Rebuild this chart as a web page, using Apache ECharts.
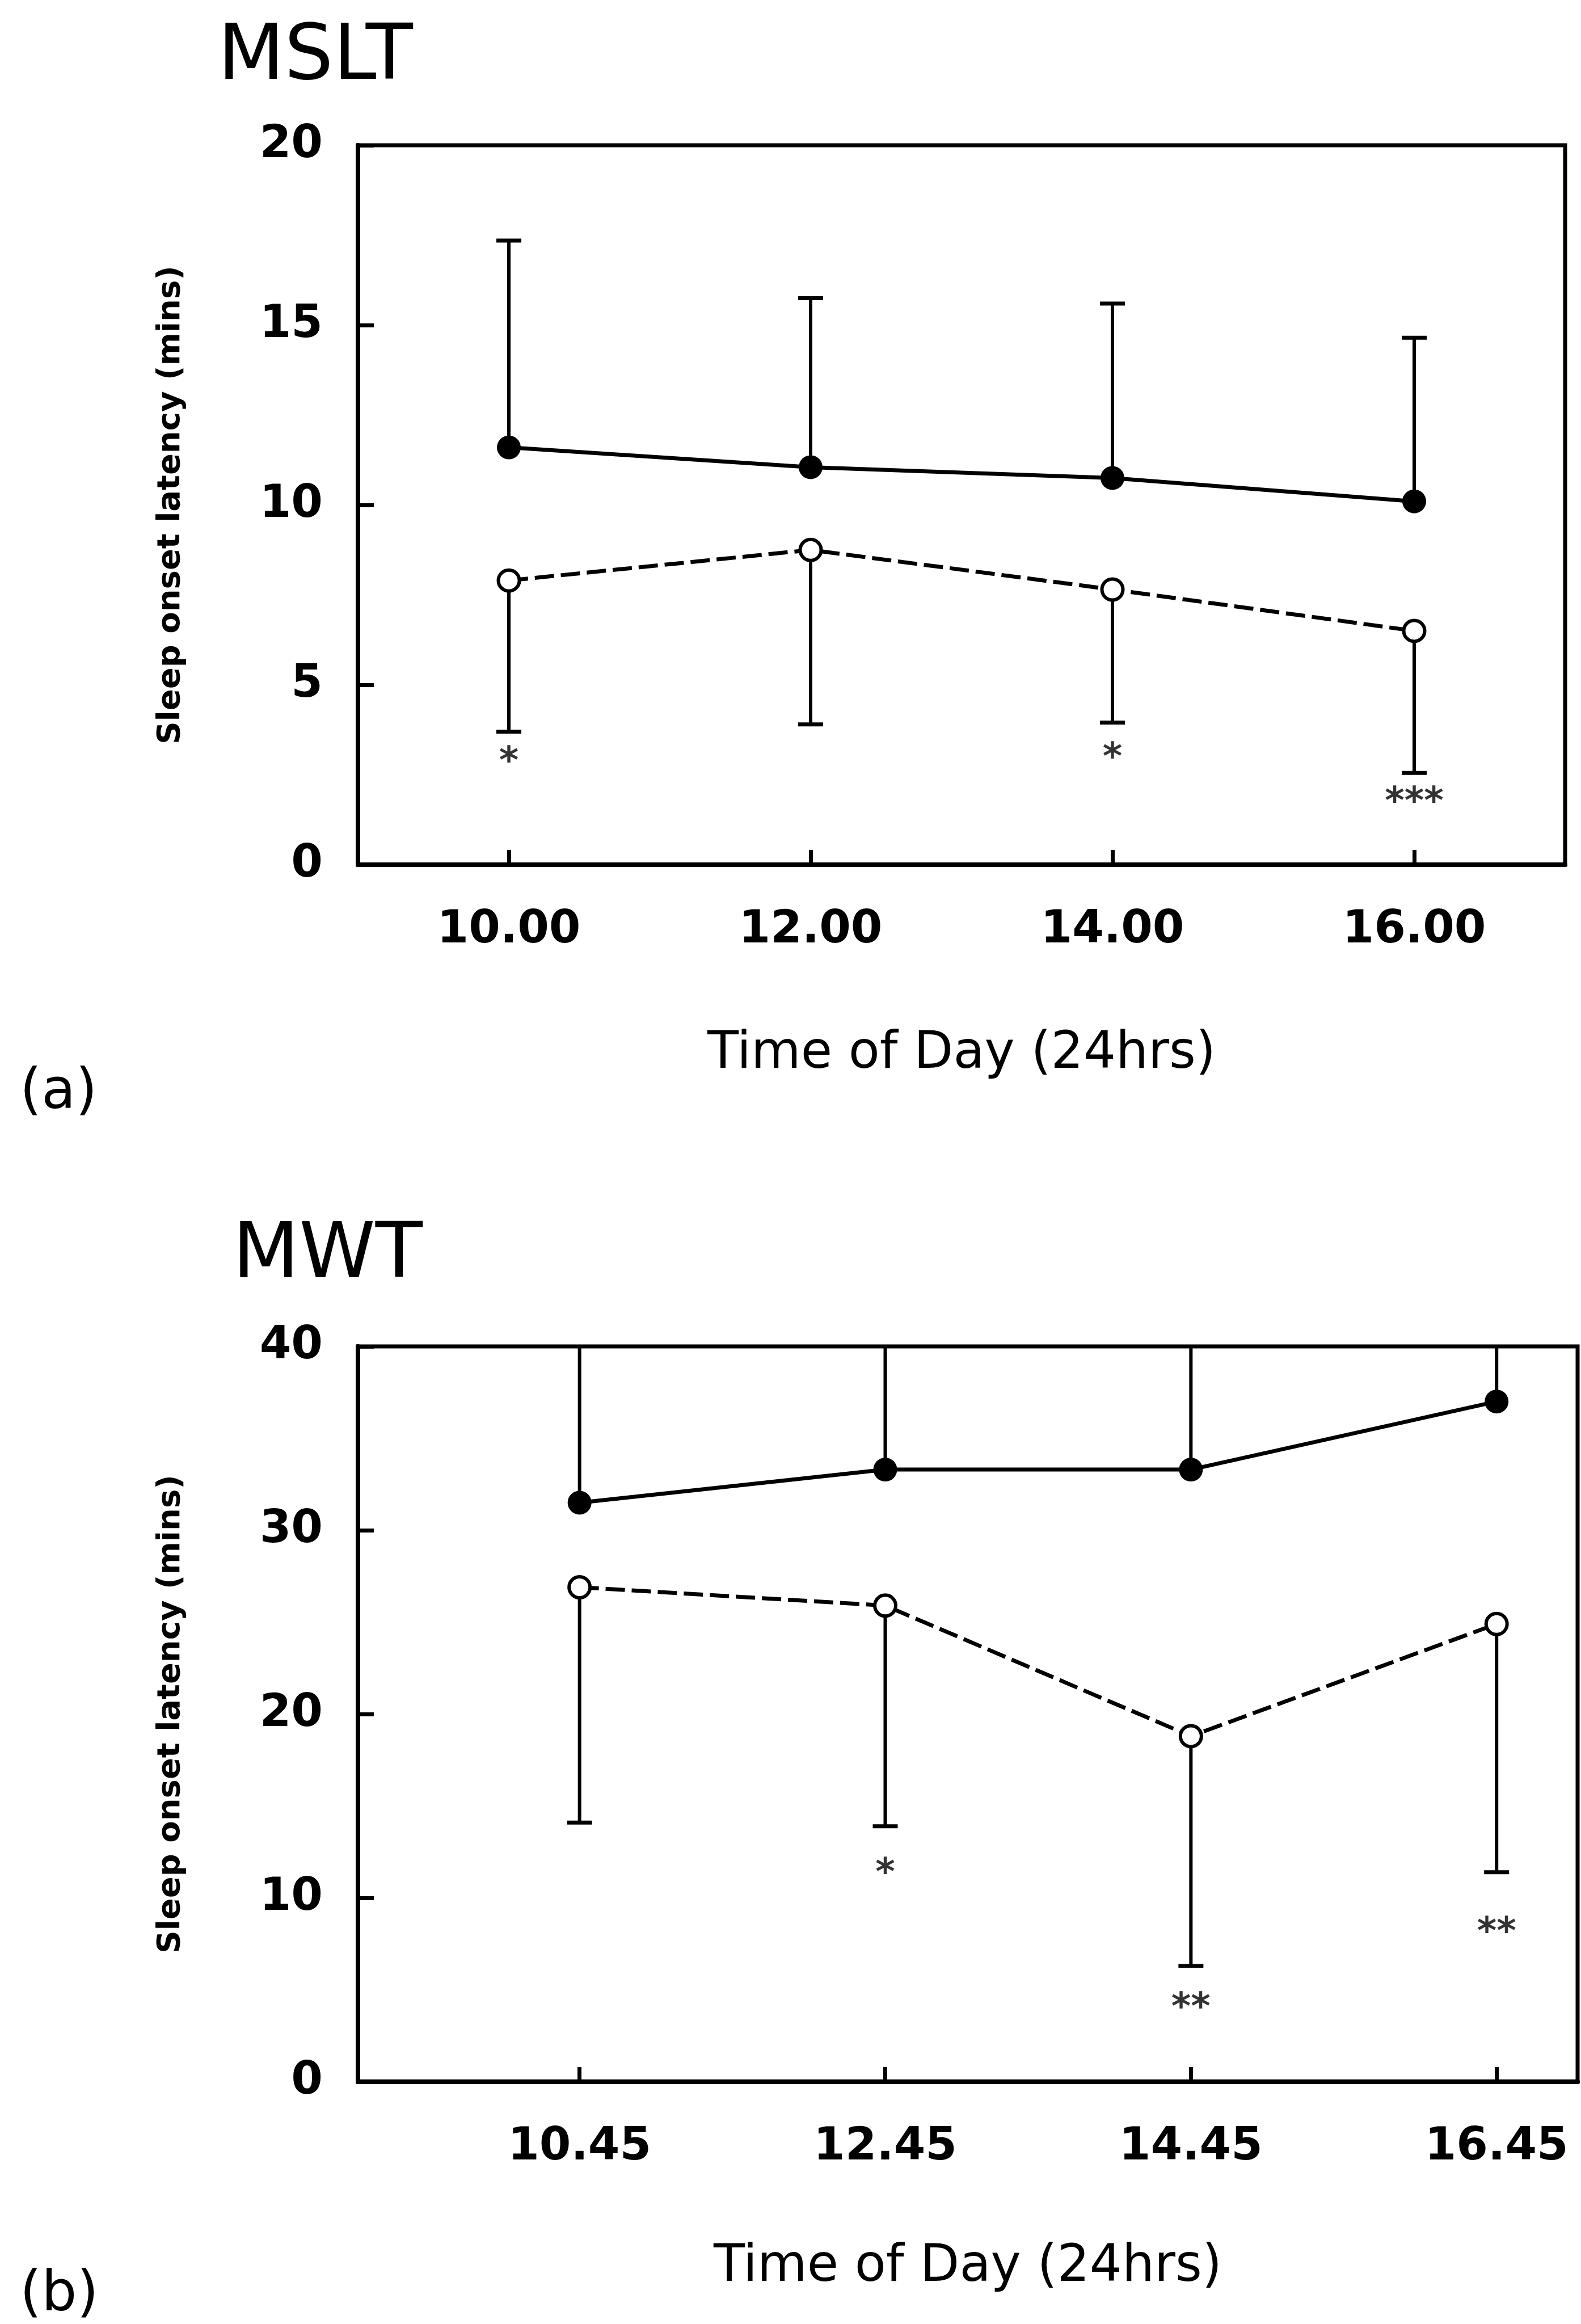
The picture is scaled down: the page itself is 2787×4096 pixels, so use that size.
<!DOCTYPE html>
<html>
<head>
<meta charset="utf-8">
<script src="https://cdn.jsdelivr.net/npm/echarts@6/dist/echarts.min.js"></script>
<style>
html, body { margin: 0; padding: 0; background: #fff; }
#chart { width: 2787px; height: 4096px; }
</style>
</head>
<body>
<div id="chart"></div>
<script>
// (a) MSLT
const msltTimes = [10, 12, 14, 16];
const msltTickLabels = ['10.00', '12.00', '14.00', '16.00'];
const msltFilled = [11.6, 11.05, 10.75, 10.1];
const msltFilledUpper = [17.35, 15.75, 15.6, 14.65];
const msltOpen = [7.9, 8.75, 7.65, 6.5];
const msltOpenLower = [3.7, 3.9, 3.95, 2.55];
const msltStars = ['*', '', '*', '***'];
const msltStarY = [3.05, null, 3.15, 1.93];

// (b) MWT
const mwtTimes = [10.75, 12.75, 14.75, 16.75];
const mwtTickLabels = ['10.45', '12.45', '14.45', '16.45'];
const mwtFilled = [31.5, 33.3, 33.3, 37.0];
const mwtFilledUpper = [40, 40, 40, 40];
const mwtOpen = [26.9, 25.9, 18.8, 24.9];
const mwtOpenLower = [14.1, 13.9, 6.3, 11.4];
const mwtStars = ['', '*', '**', '**'];
const mwtStarY = [null, 11.7, 4.4, 8.5];

const font = '"DejaVu Sans", "Liberation Sans", Arial, sans-serif';

function errorBars(times, from, to, xi, yMax) {
    return {
        type: 'custom', xAxisIndex: xi, yAxisIndex: xi, z: 1, silent: true,
        data: times.map((t, i) => [t, from[i], to[i]]),
        renderItem: (params, api) => {
            const a = api.coord([api.value(0), api.value(1)]);
            const b = api.coord([api.value(0), api.value(2)]);
            const children = [{
                type: 'line',
                shape: { x1: a[0], y1: a[1], x2: b[0], y2: b[1] },
                style: { stroke: '#000', lineWidth: 6 }
            }];
            // no cap where the bar runs into the frame
            if (api.value(2) < yMax) {
                children.push({
                    type: 'line',
                    shape: { x1: b[0] - 22, y1: b[1], x2: b[0] + 22, y2: b[1] },
                    style: { stroke: '#000', lineWidth: 7 }
                });
            }
            return { type: 'group', children: children };
        }
    };
}

function meanLine(times, vals, xi, open) {
    return {
        type: 'line', xAxisIndex: xi, yAxisIndex: xi, z: 3, silent: true,
        data: times.map((t, i) => [t, vals[i]]),
        symbol: 'circle',
        symbolSize: open ? 37 : 42,
        itemStyle: open
            ? { color: '#fff', borderColor: '#000', borderWidth: 6 }
            : { color: '#000', borderColor: '#000', borderWidth: 0 },
        lineStyle: { color: '#000', width: 7, type: open ? [34, 12] : 'solid' }
    };
}

function stars(times, texts, ys, xi) {
    const data = [];
    times.forEach((t, i) => { if (texts[i]) data.push([t, ys[i], texts[i]]); });
    return {
        type: 'scatter', xAxisIndex: xi, yAxisIndex: xi, z: 4, silent: true,
        symbolSize: 0, data: data,
        label: {
            show: true, position: 'inside', formatter: p => p.value[2],
            fontSize: 66, fontWeight: 'bold', color: '#000', fontFamily: font, offset: [0, 14]
        }
    };
}

function xAxisOf(grid, min, max, times, labels, gap) {
    return {
        gridIndex: grid, type: 'value', min: min, max: max,
        axisLine: { show: true, lineStyle: { color: '#000', width: 8 } },
        axisTick: { show: true, inside: true, length: 26, customValues: times, lineStyle: { color: '#000', width: 7 } },
        axisLabel: {
            customValues: times, formatter: v => labels[times.indexOf(v)] || '',
            fontSize: 80, fontWeight: 'bold', margin: 76, color: '#000', fontFamily: font
        },
        splitLine: { show: false },
        name: 'Time of Day (24hrs)', nameLocation: 'middle', nameGap: gap,
        nameTextStyle: { fontSize: 90, color: '#000', fontFamily: font }
    };
}

function yAxisOf(grid, max, interval) {
    return {
        gridIndex: grid, type: 'value', min: 0, max: max, interval: interval,
        axisLine: { show: true, lineStyle: { color: '#000', width: 8 } },
        axisTick: { show: true, inside: true, length: 28, lineStyle: { color: '#000', width: 7 } },
        axisLabel: { fontSize: 80, fontWeight: 'bold', margin: 62, color: '#000', fontFamily: font },
        splitLine: { show: false },
        name: 'Sleep onset latency (mins)', nameLocation: 'middle', nameGap: 302,
        nameTextStyle: { fontSize: 56, fontWeight: 'bold', color: '#000', fontFamily: font }
    };
}

const chart = echarts.init(document.getElementById('chart'));
chart.setOption({
    animation: false,
    backgroundColor: '#fff',
    grid: [
        { left: 631, top: 256, width: 2128, height: 1268, show: true, borderColor: '#000', borderWidth: 7, backgroundColor: 'transparent' },
        { left: 631, top: 2373, width: 2150, height: 1296, show: true, borderColor: '#000', borderWidth: 7, backgroundColor: 'transparent' }
    ],
    xAxis: [
        xAxisOf(0, 9, 17, msltTimes, msltTickLabels, 290),
        xAxisOf(1, 9.3, 17.28, mwtTimes, mwtTickLabels, 283)
    ],
    yAxis: [
        yAxisOf(0, 20, 5),
        yAxisOf(1, 40, 10)
    ],
    graphic: [
        { type: 'text', left: 384, top: 36, style: { text: 'MSLT', font: 'normal 136px ' + font, fill: '#000' } },
        { type: 'text', left: 410, top: 2148, style: { text: 'MWT', font: 'normal 136px ' + font, fill: '#000' } },
        { type: 'text', left: 35, top: 1879, style: { text: '(a)', font: 'normal 98px ' + font, fill: '#000' } },
        { type: 'text', left: 35, top: 3998, style: { text: '(b)', font: 'normal 98px ' + font, fill: '#000' } }
    ],
    series: [
        errorBars(msltTimes, msltFilled, msltFilledUpper, 0, 20),
        errorBars(msltTimes, msltOpen, msltOpenLower, 0, 20),
        meanLine(msltTimes, msltFilled, 0, false),
        meanLine(msltTimes, msltOpen, 0, true),
        stars(msltTimes, msltStars, msltStarY, 0),
        errorBars(mwtTimes, mwtFilled, mwtFilledUpper, 1, 40),
        errorBars(mwtTimes, mwtOpen, mwtOpenLower, 1, 40),
        meanLine(mwtTimes, mwtFilled, 1, false),
        meanLine(mwtTimes, mwtOpen, 1, true),
        stars(mwtTimes, mwtStars, mwtStarY, 1)
    ]
});
</script>
</body>
</html>
